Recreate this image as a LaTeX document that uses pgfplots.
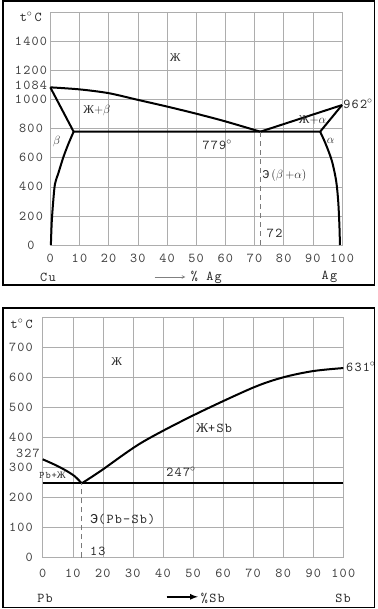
\documentclass[border=0pt]{standalone}
\usepackage{fontspec}
\usepackage{pgfplots}
\pgfplotsset{compat=1.18}
\setmonofont{lmmono10-regular.otf}[LetterSpace=9]
\newfontfamily\cyrserif{Liberation Serif}
\newfontfamily\cyrmono{Liberation Mono}
\newcommand{\ZH}{{\cyrserif Ж}}
\newcommand{\EE}{{\cyrmono Э}}
\definecolor{gridgray}{HTML}{ADADAD}
\definecolor{labelgray}{HTML}{404040}
\definecolor{textdark}{HTML}{2A2A2A}
\newcommand{\monof}{\fontsize{13.6}{13.6}\ttfamily}
\newcommand{\smallf}{\fontsize{12}{12}\selectfont}

\pgfplotsset{
  phase/.style={
    scale only axis, clip=false,
    xmin=0, xmax=100,
    grid=major,
    grid style={gridgray, line width=0.5bp},
    axis line style={gridgray, line width=0.6bp},
    major tick length=0pt,
    xtick={0,10,...,100},
    tick label style={font=\monof, text=labelgray, inner sep=0pt},
    /pgf/number format/assume math mode=true,
    /pgf/number format/1000 sep={},
  },
  curve/.style={black, line width=2bp, line join=round},
  eut/.style={gridgray!70!black, line width=0.9bp, dash pattern=on 5bp off 4bp},
}

\begin{document}
\begin{tikzpicture}
\useasboundingbox (0,0) rectangle (378bp,609bp);
\fill[white] (0,0) rectangle (378bp,609bp);

% ---------------- Cu--Ag ----------------
\begin{axis}[phase,
  at={(50.3bp,364bp)}, anchor=south west,
  width=291.7bp, height=232.7bp,
  ymin=0, ymax=1600,
  ytick={0,200,...,1400},
  extra y ticks={1084},
  extra y tick style={grid=none, yticklabel style={yshift=2bp}},
  xticklabel style={anchor=center, yshift=-13bp},
  yticklabel style={anchor=center, xshift=-19.3bp},
]
% liquidus
\addplot[curve, smooth] coordinates {
  (0,1084) (10,1070) (20,1044) (30,998) (40,952) (50,903) (60,850) (72,779)};
\addplot[curve] coordinates {(72,779) (100,962)};
% solidus and eutectic horizontal
\addplot[curve] coordinates {(0,1084) (8,779) (92.5,779) (100,962)};
% solvus lines
\addplot[curve, smooth, tension=0.5] coordinates {
  (8,779) (6.2,695) (4.5,605) (2.7,490) (1.6,420) (1.0,300) (0.5,160) (0.2,0)};
\addplot[curve, smooth, tension=0.5] coordinates {
  (92.5,779) (94.3,700) (96.5,580) (98,440) (98.7,300) (99.1,140) (99.3,0)};
% eutectic composition
\addplot[eut] coordinates {(72,0) (72,779)};

\node[textdark, font=\fontsize{12}{12}\selectfont] at (axis cs:42.8,1292) {\ZH};
\node[textdark, font=\smallf] at (axis cs:16,928) {\ZH+$\beta$};
\node[textdark, font=\smallf] at (axis cs:89.9,859) {\ZH+$\alpha$};
\node[textdark, font=\smallf] at (axis cs:2.2,712) {$\beta$};
\node[textdark, font=\smallf] at (axis cs:96.1,718) {$\alpha$};
\node[textdark, font=\monof, inner sep=0pt] at (axis cs:57.2,690) {779$^{\circ}$};
\node[textdark, font=\monof, inner sep=0pt, anchor=west] at (axis cs:100.4,970) {962$^{\circ}$};
\node[textdark, font=\smallf, inner sep=0pt, anchor=west] at (axis cs:72.6,476) {\EE\,($\beta$\,+$\alpha$)};
\node[textdark, font=\monof, inner sep=0pt, anchor=west] at (axis cs:74.2,80) {72};
\node[textdark, font=\monof, inner sep=0pt] at (axis cs:-6.7,1569) {t$^{\circ}$\,C};
\node[textdark, font=\monof, inner sep=0pt] at (axis cs:-0.8,-220) {Cu};
\node[textdark, font=\monof, inner sep=0pt] at (axis cs:95.7,-220) {Ag};
\node[textdark, font=\monof, inner sep=0pt] at (axis cs:53.5,-220) {\% Ag};
\draw[gray, line width=0.6bp, -stealth] (axis cs:35.8,-220) -- (axis cs:46.3,-220);
\end{axis}

% ---------------- Pb--Sb ----------------
\begin{axis}[phase,
  at={(42.7bp,51.5bp)}, anchor=south west,
  width=300.6bp, height=240.2bp,
  ymin=0, ymax=800,
  ytick={0,100,...,700},
  xticklabel style={anchor=center, yshift=-15.5bp},
  yticklabel style={anchor=east, xshift=-9.7bp},
]
% liquidus
\addplot[curve, smooth, tension=0.5] coordinates {
  (0,327) (3.8,310) (7.5,291) (10.6,271) (13,247)};
\addplot[curve, smooth] coordinates {
  (13,247) (19.4,289) (32.8,382) (50.2,474) (69.8,565) (80,600) (90,621) (100,631)};
% eutectic horizontal
\addplot[curve] coordinates {(0,247) (100,247)};
% eutectic composition
\addplot[eut] coordinates {(13,0) (13,247)};

\node[textdark, font=\monof, inner sep=0pt] at (axis cs:-7,778) {t$^{\circ}$\,C};
\node[font=\monof, inner sep=0pt, anchor=east, text=labelgray] at (axis cs:-0.9,348) {327};
\node[textdark, font=\fontsize{12}{12}\selectfont] at (axis cs:24.6,651) {\ZH};
\node[textdark, font=\monof, inner sep=0pt] at (axis cs:57,432) {\ZH+Sb};
\node[textdark, font=\fontsize{10}{10}\ttfamily, inner sep=0pt] at (axis cs:3.3,275) {Pb+\ZH};
\node[textdark, font=\monof, inner sep=0pt] at (axis cs:46,285) {247$^{\circ}$};
\node[textdark, font=\monof, inner sep=0pt, anchor=west] at (axis cs:100.9,636) {631$^{\circ}$};
\node[textdark, font=\monof, inner sep=0pt, anchor=west] at (axis cs:15.7,127) {\EE(Pb-Sb)};
\node[textdark, font=\monof, inner sep=0pt, anchor=west] at (axis cs:15.7,19) {13};
\node[textdark, font=\monof, inner sep=0pt] at (axis cs:0.8,-136) {Pb};
\node[textdark, font=\monof, inner sep=0pt] at (axis cs:99.9,-136) {Sb};
\node[textdark, font=\monof, inner sep=0pt] at (axis cs:56.6,-136) {\%Sb};
\draw[black, line width=1.6bp, -latex] (axis cs:41.2,-131) -- (axis cs:51.6,-131);
\end{axis}

% panel frames
\draw[black, line width=1.5bp] (3bp,324bp) rectangle (374.5bp,608bp);
\draw[black, line width=1.5bp] (3bp,1.7bp) rectangle (374.5bp,301bp);
\end{tikzpicture}
\end{document}
